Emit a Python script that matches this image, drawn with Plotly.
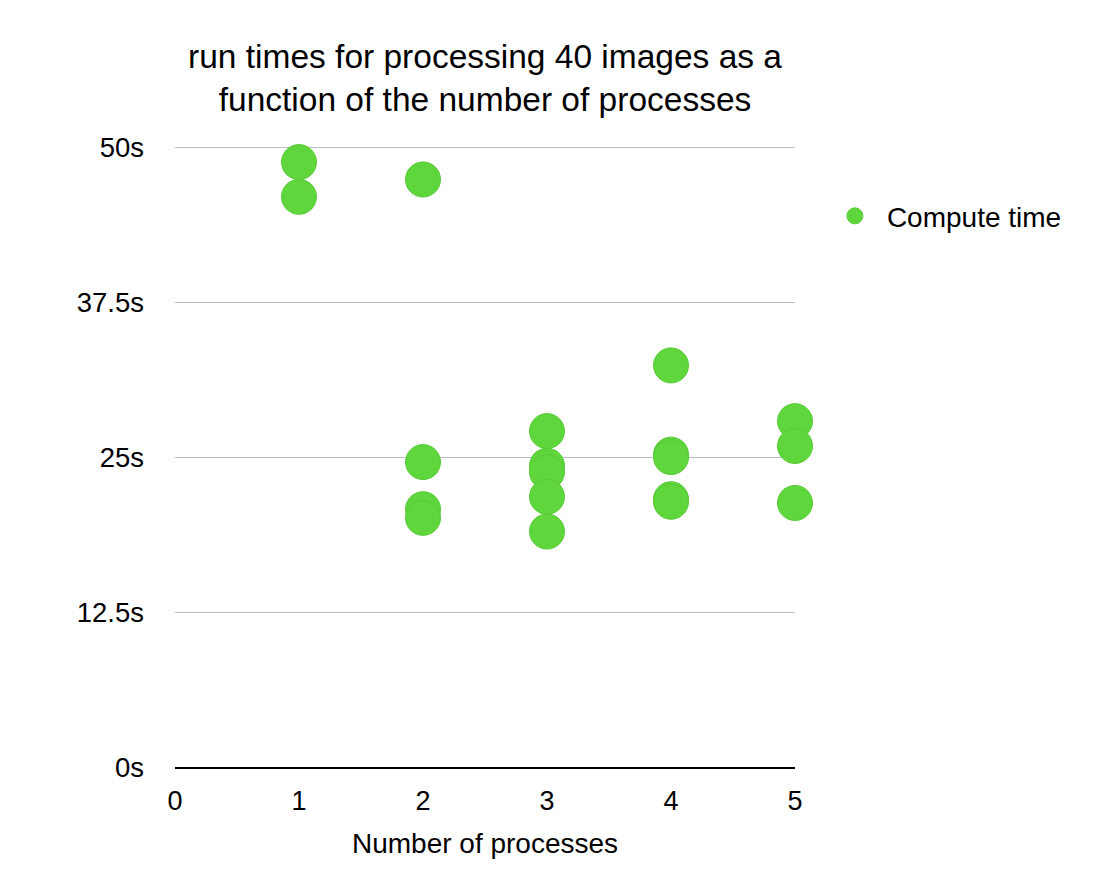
import plotly.graph_objects as go

series_name = "Compute time"
processes = [1, 1, 2, 2, 2, 2, 3, 3, 3, 3, 3, 4, 4, 4, 4, 4, 5, 5, 5]
times = [48.8, 46.0, 47.4, 24.6, 20.8, 20.1, 27.1, 24.3, 23.8, 21.8, 19.0,
         32.4, 25.2, 25.0, 21.6, 21.4, 27.9, 25.9, 21.3]
x_ticks = [0, 1, 2, 3, 4, 5]
y_ticks = [0, 12.5, 25, 37.5, 50]
y_labels = ["0s", "12.5s", "25s", "37.5s", "50s"]

FONT = "Liberation Sans, Arial, sans-serif"

fig = go.Figure()
fig.add_trace(go.Scatter(
    x=processes, y=times, mode="markers", name=series_name,
    marker=dict(size=35, color="#5fd63b", line=dict(width=1, color="#56cb36")),
    cliponaxis=False,
))

fig.update_layout(
    width=1100, height=891,
    margin=dict(l=167, r=313, t=137.76, b=132),
    paper_bgcolor="white", plot_bgcolor="white",
    font=dict(family=FONT, color="black"),
    title=dict(
        text="run times for processing 40 images as a<br>function of the number of processes",
        x=(167 + 310) / 1100, xanchor="center",
        y=1 - (67.5 - 8) / 891, yanchor="middle", yref="container",
        font=dict(size=33.5, family=FONT, color="black"),
    ),
    showlegend=True,
    legend=dict(
        x=1.045, xanchor="left", y=0.887, yanchor="middle",
        itemwidth=54,
        font=dict(size=28, family=FONT, color="black"),
        bgcolor="rgba(0,0,0,0)",
    ),
    xaxis=dict(
        range=[0, 5], tickvals=x_ticks, ticktext=[str(v) for v in x_ticks],
        showgrid=False, zeroline=False, showline=True, linecolor="black", linewidth=2,
        ticks="", tickfont=dict(size=27, family=FONT, color="black"),
        ticklabelstandoff=9,
        title=dict(text="Number of processes", font=dict(size=28, family=FONT, color="black"), standoff=18),
    ),
    yaxis=dict(
        range=[0, 50.1], tickvals=y_ticks, ticktext=y_labels,
        showgrid=True, gridcolor="#bdbdbd", gridwidth=1,
        zeroline=False, showline=False, ticks="",
        tickfont=dict(size=27.5, family=FONT, color="black"),
        ticklabelstandoff=30,
    ),
)

fig.write_html("out.html")
